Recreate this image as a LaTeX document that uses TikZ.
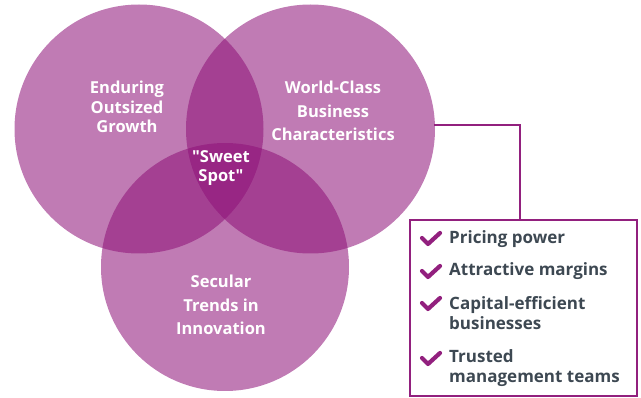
\documentclass[tikz,border=0pt]{standalone}
\usepackage{fontspec}
\setmainfont{Open Sans}[Ligatures=TeXOff]
\definecolor{vbase}{RGB}{142,18,120}
\definecolor{lineP}{RGB}{146,32,126}
\definecolor{txtgray}{RGB}{61,72,82}
\begin{document}
\begin{tikzpicture}[x=1pt,y=-1pt,
  venn/.style={fill=vbase,fill opacity=0.556,draw=none},
  vlabel/.style={text=white,font=\fontsize{16.5}{19.5}\selectfont\bfseries,align=center,inner sep=0pt},
  vlabelB/.style={text=white,font=\fontsize{16.5}{23.5}\selectfont\bfseries,align=center,inner sep=0pt},
  item/.style={text=txtgray,font=\fontsize{17}{20.5}\selectfont\bfseries,align=left,anchor=west,inner sep=0pt},
  chk/.style={draw=lineP,line width=4.2pt,line cap=round,line join=round},
  conn/.style={draw=lineP,line width=2.2pt}]
\useasboundingbox (0,0) rectangle (641,398);
\fill[venn] (139,129) circle (124.5);
\fill[venn] (310.5,129) circle (124.5);
\fill[venn] (225,267) circle (124);
\node[vlabel] (c1) at (127,107) {Enduring\\Outsized\\Growth};
\node[vlabelB] (c2) at (333,111) {World-Class\\Business\\Characteristics};
\node[vlabel] (c0) at (221,168) {"Sweet\\Spot"};
\node[vlabelB] (c3) at (221,305) {Secular\\Trends in\\Innovation};
\coordinate (cedge) at (434,125);
\node[draw=lineP,line width=2.2pt,minimum width=227pt,minimum height=176pt,anchor=north west,inner sep=0pt] (box) at (409,219) {};
\draw[conn] (cedge) -- (520,125) -- (box.north -| 520,0);
\foreach \y/\n in {238/a,271/b,303/c,358/d}{
  \draw[chk] (422,\y) -- (428,\y+6) -- (440,\y-5);
}
\node[item] (t1) at (449,239) {Pricing power};
\node[item] (t2) at (449,271) {Attractive margins};
\node[item] (t3) at (449,313) {Capital-efficient\\businesses};
\node[item] (t4) at (449,368) {Trusted\\management teams};
\end{tikzpicture}
\end{document}
